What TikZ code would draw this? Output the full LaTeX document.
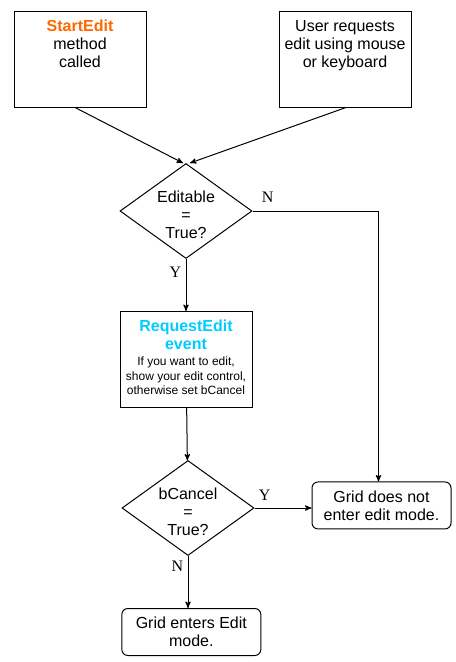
\documentclass[tikz,border=0pt]{standalone}
\usepackage{fontspec}
\setmainfont{Liberation Sans}
\newfontfamily\lblfont{Liberation Serif}
\usepackage{tikz}
\usetikzlibrary{shapes,arrows,positioning}
\definecolor{startorange}{HTML}{FF6600}
\definecolor{eventcyan}{HTML}{00CCFF}

\begin{document}
\begin{tikzpicture}[->,>=stealth',shorten >=0pt,auto,x=0.75pt,y=-0.75pt,node distance=39pt,line width=0.75pt,font=\fontsize{12}{13.5}\selectfont,main node/.style={draw, minimum width=99pt, minimum height=72pt, align=center},decision/.style={draw, diamond, aspect=1.4, inner sep=0pt, minimum width=99pt, minimum height=71.25pt},end node/.style={draw, rounded corners=4.5pt, minimum width=104.25pt, minimum height=35.25pt, align=center},yn/.style={font=\lblfont\fontsize{12}{14}\selectfont}]
			\useasboundingbox (0,0) rectangle (455,662);
			\node[main node, label={[anchor=north, align=center, yshift=-3.5pt]north:{\textbf{\color{startorange}StartEdit}\\method\\called}}] (1) at (80,59) {};
			\node[main node, label={[anchor=north, align=center, yshift=-3.5pt]north:{User requests\\edit using mouse\\or keyboard}}] (2) at (345,59) {};
			
			\node[decision, label={[align=center, yshift=-3pt]center:{Editable\\=\\True?}}] (3) at (186,211) {};
			\node[main node] (4) [below=of 3]{\textbf{\color{eventcyan}RequestEdit}\\\textbf{\color{eventcyan}event}\\[-1.5pt]{\fontsize{9}{10.9}\selectfont\begin{tabular}[t]{@{}c@{}}If you want to edit,\\show your edit control,\\otherwise set bCancel\end{tabular}}};
			\node[decision, label={[align=center, yshift=-3pt]center:{bCancel\\=\\True?}}] (6) [below=of 4, xshift=1.5pt]{};
			\node[end node] (5) [right=of 6, xshift=3.75pt, yshift=1.9pt]{Grid does not\\enter edit mode.};
			\node[end node] (7) [below=of 6, xshift=2.5pt]{Grid enters Edit\\mode.};
			
			\path
			([xshift=-3.75pt]1.south) edge ([xshift=-2.25pt]3.north)
			([xshift=0.75pt]2.south) edge ([xshift=3pt]3.north)
			
			(3) edge node [yn, left, pos=0.26] {Y} (4)
			(4) edge (6)
			(6.east) edge node [yn, above, pos=0.18, yshift=2pt] {Y} (6.east -| 5.west)
			(6.south) edge node [yn, left, pos=0.19] {N} (6.south |- 7.north);
			
			\draw (3.east) -| node [yn, above, pos=0.06, yshift=3pt] {N} ([xshift=-2.25pt]5.north);
			
\end{tikzpicture}
\end{document}
